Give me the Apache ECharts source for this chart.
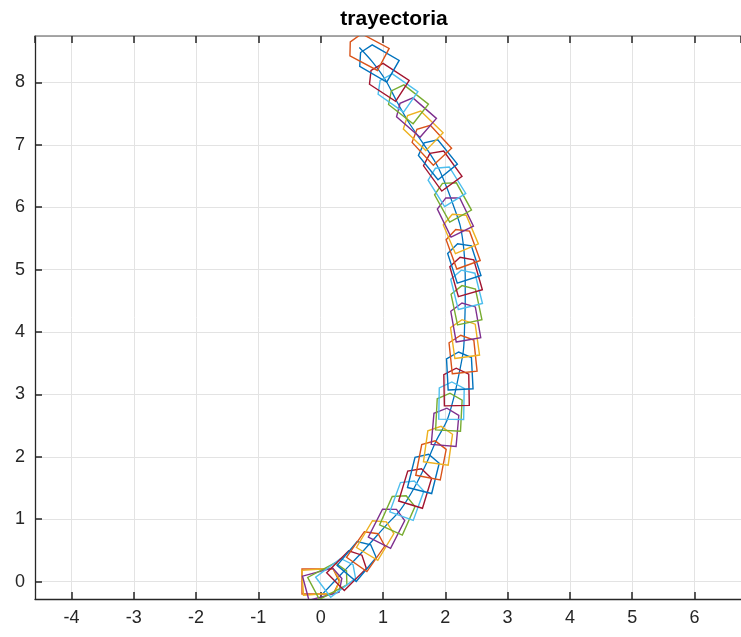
<!DOCTYPE html>
<html lang="es">
<head>
<meta charset="UTF-8">
<title>trayectoria</title>
<script src="https://cdn.jsdelivr.net/npm/echarts@6.0.0/dist/echarts.min.js"></script>
<style>
  html, body { margin: 0; padding: 0; background: #ffffff; }
  #chart { width: 741px; height: 637px; }
</style>
</head>
<body>
<div id="chart"></div>
<script>
// trayectoria (linea azul)
const pathX = [0.02, 0.35, 0.70, 1.05, 1.28, 1.50, 1.70, 1.85, 2.03, 2.15, 2.20, 2.29, 2.31, 2.32, 2.32, 2.30, 2.24, 2.14, 2.03, 1.88, 1.66, 1.42, 1.22, 1.04, 0.83, 0.62];
const pathY = [-0.21, 0.14, 0.51, 0.90, 1.15, 1.50, 1.90, 2.25, 2.59, 3.00, 3.23, 3.70, 4.10, 4.50, 4.90, 5.30, 5.70, 6.00, 6.30, 6.65, 7.00, 7.35, 7.70, 8.04, 8.33, 8.56];

// poses del robot: centro y orientacion (grados)
const poseX = [0.00, 0.01, 0.05, 0.15, 0.28, 0.45, 0.61, 0.75, 0.90, 1.08, 1.25, 1.40, 1.53, 1.66, 1.78, 1.89, 2.00, 2.06, 2.10, 2.18, 2.23, 2.28, 2.31, 2.32, 2.33, 2.33, 2.32, 2.29, 2.27, 2.23, 2.14, 2.10, 2.00, 1.93, 1.85, 1.75, 1.61, 1.50, 1.37, 1.20, 1.06, 0.90, 0.74];
const poseY = [0.00, 0.00, -0.03, 0.03, 0.09, 0.21, 0.36, 0.52, 0.70, 0.89, 1.10, 1.33, 1.52, 1.75, 1.96, 2.19, 2.48, 2.72, 2.90, 3.12, 3.38, 3.65, 3.90, 4.17, 4.45, 4.70, 4.91, 5.13, 5.36, 5.61, 5.88, 6.12, 6.37, 6.62, 6.80, 7.03, 7.26, 7.47, 7.68, 7.86, 8.03, 8.33, 8.51];
const poseHeading = [0, 4, 15, 28, 37, 45, 50, 55, 59, 63, 66, 70, 73, 76, 79, 82, 85, 87, 89, 91, 93, 96, 98, 100, 102, 104, 106, 108, 110, 113, 116, 119, 122, 126, 129, 133, 136, 139, 142, 145, 147, 150, 152];

// contorno del robot en su propio marco (x hacia delante)
const robotOutline = [[-0.3, 0.2], [-0.3, -0.2], [0.2, -0.2], [0.3, 0], [0.2, 0.2]];
const colorOrder = ['#0072BD', '#D95319', '#EDB120', '#7E2F8E', '#77AC30', '#4DBEEE', '#A2142F'];

const FONT = "'Liberation Sans', Arial, Helvetica, sans-serif";
const INK = '#262626';

const pathData = pathX.map((x, i) => [x, pathY[i]]);
const poseData = poseX.map((x, i) => [x, poseY[i], poseHeading[i]]);

const chart = echarts.init(document.getElementById('chart'));

function renderRobot(params, api) {
    const cx = api.value(0), cy = api.value(1);
    const th = api.value(2) * Math.PI / 180;
    const c = Math.cos(th), s = Math.sin(th);
    const points = robotOutline.map(function (p) {
        return api.coord([cx + p[0] * c - p[1] * s, cy + p[0] * s + p[1] * c]);
    });
    return {
        type: 'polygon',
        shape: { points: points },
        style: { fill: 'none', stroke: colorOrder[(params.dataIndex + 1) % 7], lineWidth: 1.4 }
    };
}

const axisLabelStyle = { color: INK, fontSize: 18, fontFamily: FONT, margin: 10, showMinLabel: false, showMaxLabel: false };

chart.setOption({
    animation: false,
    title: {
        text: 'trayectoria',
        left: 389,
        top: 4,
        textAlign: 'center',
        textStyle: { fontFamily: FONT, fontSize: 21, fontWeight: 'bold', color: '#000' }
    },
    grid: { left: 35, right: 0, top: 36, bottom: 38 },
    xAxis: [{
        type: 'value',
        min: -4.585,
        max: 6.746,
        minInterval: 1,
        maxInterval: 1,
        axisLine: { show: true, onZero: false, lineStyle: { color: INK, width: 1.3 } },
        axisTick: { show: true, inside: true, length: 7, lineStyle: { color: INK, width: 1.5 } },
        axisLabel: axisLabelStyle,
        splitLine: { show: true, lineStyle: { color: '#e3e3e3', width: 1 } }
    }, {
        type: 'value',
        position: 'top',
        min: -4.585,
        max: 6.746,
        minInterval: 1,
        maxInterval: 1,
        axisLine: { show: true, onZero: false, lineStyle: { color: '#8c8c8c', width: 1.5 } },
        axisTick: { show: true, inside: true, length: 7, lineStyle: { color: INK, width: 1.5 } },
        axisLabel: { show: false },
        splitLine: { show: false }
    }],
    yAxis: {
        type: 'value',
        min: -0.28,
        max: 8.745,
        minInterval: 1,
        maxInterval: 1,
        axisLine: { show: true, onZero: false, lineStyle: { color: INK, width: 1.3 } },
        axisTick: { show: true, inside: true, length: 7, lineStyle: { color: INK, width: 1.5 } },
        axisLabel: axisLabelStyle,
        splitLine: { show: true, lineStyle: { color: '#e3e3e3', width: 1 } }
    },
    series: [{
        type: 'line',
        data: pathData,
        showSymbol: false,
        smooth: 0.3,
        z: 2,
        lineStyle: { color: '#0072BD', width: 1.3 }
    }, {
        type: 'custom',
        data: poseData,
        renderItem: renderRobot,
        clip: true,
        z: 3
    }]
});
</script>
</body>
</html>
